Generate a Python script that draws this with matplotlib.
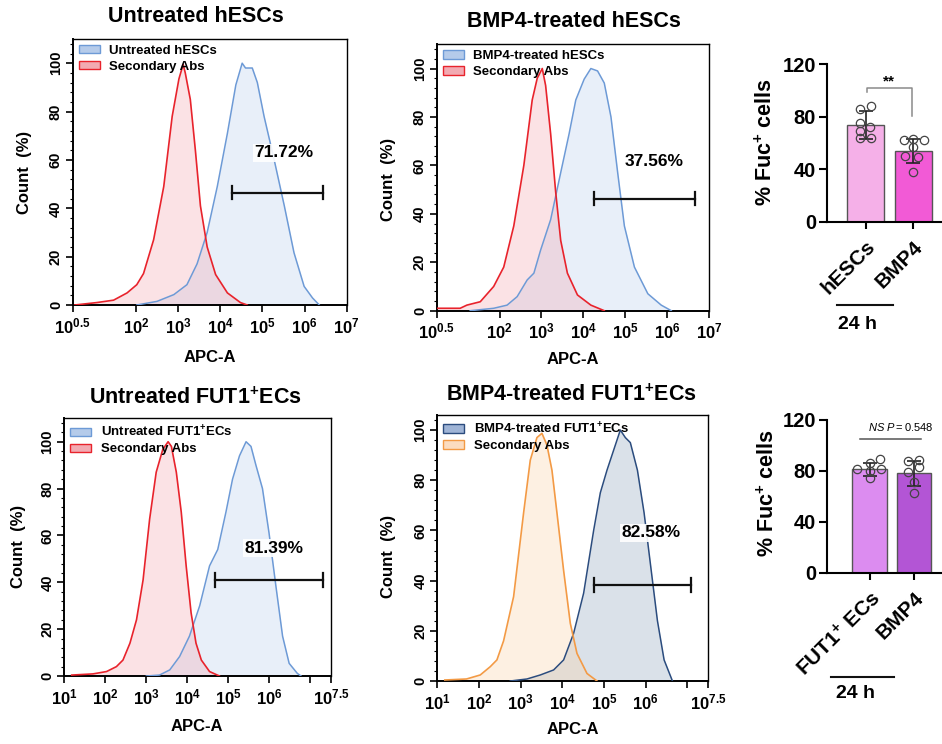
import numpy as np
import matplotlib
matplotlib.use('Agg')
import matplotlib.pyplot as plt
from matplotlib.patches import Patch
from matplotlib.lines import Line2D
from matplotlib.ticker import MultipleLocator, NullFormatter, FixedLocator
import matplotlib.transforms as mtrans

plt.rcParams['font.family'] = ['Liberation Sans', 'DejaVu Sans']
plt.rcParams['mathtext.fontset'] = 'custom'
plt.rcParams['mathtext.rm'] = 'Liberation Sans'
plt.rcParams['mathtext.bf'] = 'Liberation Sans:bold'
plt.rcParams['mathtext.it'] = 'Liberation Sans:italic'

# ---------------- data: flow histograms (x = log10 APC-A, y = Count %) -------------
p1_ctrl_logx = [0.55, 1.07, 1.47, 1.79, 2.02, 2.18, 2.42, 2.66, 2.86, 3.02, 3.12, 3.17, 3.29, 3.41, 3.53, 3.69, 3.89, 4.17, 4.48, 4.64]
p1_ctrl_y = [0, 1, 2, 5, 8.4, 13, 27, 49, 78, 93.5, 99.5, 96, 85, 64, 41, 24, 12.6, 5, 1, 0]
p1_samp_logx = [2.02, 2.5, 2.9, 3.21, 3.45, 3.69, 3.93, 4.17, 4.37, 4.52, 4.6, 4.76, 4.88, 5.04, 5.28, 5.52, 5.75, 5.99, 6.19, 6.35]
p1_samp_y = [0, 1.5, 4.3, 8.4, 17, 30, 49, 71, 91, 100, 98, 98, 92, 78, 60, 41, 21.6, 7.7, 2.9, 0]

p2_ctrl_logx = [0.5, 1.06, 1.22, 1.54, 1.86, 2.1, 2.34, 2.58, 2.78, 2.9, 3.02, 3.1, 3.22, 3.34, 3.46, 3.62, 3.86, 4.18, 4.5]
p2_ctrl_y = [1, 1, 2.3, 3.7, 10, 18, 35, 60, 87, 96, 100, 93, 73, 49, 29, 15.5, 6.5, 2.3, 0]
p2_samp_logx = [1.3, 1.86, 2.18, 2.42, 2.66, 2.82, 2.98, 3.22, 3.46, 3.66, 3.82, 4.02, 4.18, 4.34, 4.5, 4.66, 4.82, 4.98, 5.22, 5.54, 5.86, 6.1]
p2_samp_y = [0, 1, 2.3, 5.8, 12.7, 15.5, 25, 37.6, 57, 73, 87, 95.6, 100, 99, 94, 80, 57, 35, 18, 7, 2.3, 0]

p3_ctrl_logx = [1.18, 1.7, 2.03, 2.27, 2.43, 2.6, 2.76, 2.92, 3.08, 3.24, 3.4, 3.53, 3.61, 3.73, 3.85, 3.97, 4.09, 4.21, 4.34, 4.54, 4.78]
p3_ctrl_y = [0.4, 0.9, 1.9, 4, 6.8, 14, 24, 41, 67, 87, 96.7, 100, 98, 87, 70, 47, 27, 14, 6.8, 1.9, 0]
p3_samp_logx = [3.0, 3.32, 3.57, 3.81, 4.05, 4.3, 4.54, 4.74, 4.94, 5.1, 5.27, 5.43, 5.55, 5.67, 5.83, 5.99, 6.16, 6.32, 6.48, 6.68, 6.77]
p3_samp_y = [0, 0.4, 2.6, 8.3, 17, 30, 47, 54, 70, 84, 94, 100, 98, 90, 80, 61, 38, 17, 5.4, 1.1, 0]

p4_ctrl_logx = [1.18, 1.7, 2.03, 2.27, 2.43, 2.59, 2.83, 3.07, 3.23, 3.39, 3.51, 3.63, 3.75, 3.87, 4.03, 4.19, 4.35, 4.59, 4.83]
p4_ctrl_y = [0.4, 0.8, 2.4, 5.7, 8.4, 16, 33.6, 67, 88, 97, 98.7, 94, 84, 67, 44, 23, 11, 3, 0]
p4_samp_logx = [2.75, 3.15, 3.47, 3.79, 4.03, 4.27, 4.51, 4.75, 4.91, 5.07, 5.23, 5.39, 5.51, 5.63, 5.8, 5.96, 6.12, 6.28, 6.44, 6.64]
p4_samp_y = [0, 0.8, 2.4, 4.4, 8.4, 19, 35, 60, 75, 84, 92, 100, 97, 95, 84, 67, 45.5, 24, 8.4, 0]

# gates (log10 start, log10 end, y level) and percentages
gates_logx = [(4.29, 6.43), (4.26, 6.66), (4.68, 7.31), (4.75, 7.08)]
gates_y = [46.5, 46.3, 41.0, 38.2]
pct_labels = ['71.72%', '37.56%', '81.39%', '82.58%']
pct_logx = [5.52, 5.68, 6.12, 6.12]
pct_y = [63, 61.5, 54.6, 59]

titles = ['Untreated hESCs', 'BMP4-treated hESCs',
          r'Untreated FUT1$^{\mathbf{+}}$ECs', r'BMP4-treated FUT1$^{\mathbf{+}}$ECs']
sample_labels = ['Untreated hESCs', 'BMP4-treated hESCs',
                 r'Untreated FUT1$^{\mathbf{+}}$ECs', r'BMP4-treated FUT1$^{\mathbf{+}}$ECs']
ctrl_label = 'Secondary Abs'

xticks_top = [0.5, 2, 3, 4, 5, 6, 7]
xticklabels_top = ['0.5', '2', '3', '4', '5', '6', '7']
xticks_bot = [1, 2, 3, 4, 5, 6, 7, 7.5]
xticklabels_bot = ['1', '2', '3', '4', '5', '6', '', '7.5']

# ---------------- data: bar charts -------------
bar1_cats = ['hESCs', 'BMP4']
bar1_means = [73.6, 53.8]
bar1_sds = [10.7, 9.3]
bar1_pts = [[85.8, 88.0, 75.1, 72.0, 69.0, 64.0, 64.0],
            [62.5, 63.0, 62.5, 57.0, 50.0, 49.5, 37.6]]
bar1_sig = '**'

bar2_cats = [r'FUT1$^{\mathbf{+}}$ ECs', 'BMP4']
bar2_means = [81.2, 78.0]
bar2_sds = [5.0, 10.0]
bar2_pts = [[86.1, 89.1, 81.3, 79.9, 81.3, 74.2],
            [88.0, 88.6, 82.8, 78.9, 71.5, 62.4]]
bar2_sig = 'P=0.548'

# jitter (style) offsets for dots, in bar-slot units
bar1_jit = [[-0.11, 0.11, -0.11, 0.09, -0.11, -0.11, 0.11],
            [-0.19, 0.0, 0.23, 0.0, -0.17, 0.10, 0.0]]
bar2_jit = [[0.0, 0.24, -0.28, 0.0, 0.25, 0.0],
            [-0.13, 0.12, 0.12, -0.13, 0.0, 0.0]]

# ---------------- figure -------------
W, H = 942, 744
fig = plt.figure(figsize=(W / 100, H / 100), dpi=100)


def fx(x):
    return x / W


def fy(y):
    return 1 - y / H


def rect(l, t, r, b):
    return [l / W, 1 - b / H, (r - l) / W, (b - t) / H]


RED = '#e8232c'
BLUE = '#6d9ad6'
NAVY = '#2b4c7e'
ORANGE = '#f39a45'


def hist_panel(box, ctrl, samp, ccol, cfill, clfc, scol, sfill, slfc, falpha,
               xlim, ylim, xt, xtl, gate, gy, pct, px, py, slabel):
    ax = fig.add_axes(box)
    ax.set_xscale('log')
    cx = 10 ** np.array(ctrl[0])
    sx = 10 ** np.array(samp[0])
    ax.fill_between(sx, samp[1], 0, color=sfill, alpha=falpha[1], lw=0, zorder=1)
    ax.fill_between(cx, ctrl[1], 0, color=cfill, alpha=falpha[0], lw=0, zorder=1.1)
    ax.plot(sx, samp[1], color=scol, lw=1.1, zorder=3)
    ax.plot(cx, ctrl[1], color=ccol, lw=1.2, zorder=3)
    ax.set_xlim(10 ** xlim[0], 10 ** xlim[1])
    ax.set_ylim(*ylim)
    ax.xaxis.set_major_locator(FixedLocator([10 ** v for v in xt]))
    ax.set_xticklabels([r'$\mathbf{10^{%s}}$' % t if t else '' for t in xtl])
    ax.xaxis.set_minor_formatter(NullFormatter())
    ax.yaxis.set_major_locator(MultipleLocator(20))
    ax.yaxis.set_minor_locator(MultipleLocator(4))
    ax.set_ylim(*ylim)
    ax.tick_params(axis='x', which='major', direction='out', length=5, width=1.2,
                   labelsize=12, pad=3)
    ax.tick_params(axis='x', which='minor', direction='out', length=2.5, width=0.8)
    ax.tick_params(axis='y', which='major', direction='out', length=5, width=1.2,
                   labelsize=10.5, pad=2)
    ax.tick_params(axis='y', which='minor', direction='out', length=2.5, width=0.8)
    for lab in ax.get_yticklabels():
        lab.set_rotation(90)
        lab.set_va('center')
        lab.set_fontweight('bold')
    for s in ['left', 'bottom']:
        ax.spines[s].set_linewidth(1.4)
    for s in ['top', 'right']:
        ax.spines[s].set_linewidth(1.0)
    # gate
    gx0, gx1 = 10 ** gate[0], 10 ** gate[1]
    ax.plot([gx0, gx1], [gy, gy], color='#111', lw=1.6, zorder=5)
    ax.plot([gx0, gx0], [gy - 2.8, gy + 2.8], color='#111', lw=1.6, zorder=5)
    ax.plot([gx1, gx1], [gy - 2.8, gy + 2.8], color='#111', lw=1.6, zorder=5)
    ax.text(10 ** px, py, pct, ha='center', va='center', fontsize=12.5,
            fontweight='bold', zorder=6,
            bbox=dict(facecolor='white', edgecolor='none', pad=1.0, alpha=0.9))
    handles = [Patch(facecolor=slfc, edgecolor=scol, lw=1.0, label=slabel),
               Patch(facecolor=clfc, edgecolor=ccol, lw=1.0, label=ctrl_label)]
    ax.legend(handles=handles, loc='upper left', frameon=False,
              prop=dict(weight='bold', size=9.5), handlelength=1.6,
              handleheight=0.6, handletextpad=0.7, labelspacing=0.3,
              borderaxespad=0.25, borderpad=0.2)
    return ax


ax1 = hist_panel(rect(72.7, 39, 346.7, 305), (p1_ctrl_logx, p1_ctrl_y), (p1_samp_logx, p1_samp_y),
                 RED, '#f39aa4', '#f2aab2', BLUE, '#bcd0ee', '#b5cbea', (0.28, 0.33),
                 (0.5, 7), (0, 110), xticks_top, xticklabels_top,
                 gates_logx[0], gates_y[0], pct_labels[0], pct_logx[0], pct_y[0], sample_labels[0])
ax2 = hist_panel(rect(436.7, 44.3, 709, 310.7), (p2_ctrl_logx, p2_ctrl_y), (p2_samp_logx, p2_samp_y),
                 RED, '#f39aa4', '#f2aab2', BLUE, '#bcd0ee', '#b5cbea', (0.28, 0.33),
                 (0.5, 7), (0, 110), xticks_top, xticklabels_top,
                 gates_logx[1], gates_y[1], pct_labels[1], pct_logx[1], pct_y[1], sample_labels[1])
ax3 = hist_panel(rect(64.3, 418.3, 331, 676), (p3_ctrl_logx, p3_ctrl_y), (p3_samp_logx, p3_samp_y),
                 RED, '#f39aa4', '#f2aab2', BLUE, '#bcd0ee', '#b5cbea', (0.28, 0.33),
                 (1, 7.5), (0, 110), xticks_bot, xticklabels_bot,
                 gates_logx[2], gates_y[2], pct_labels[2], pct_logx[2], pct_y[2], sample_labels[2])
ax4 = hist_panel(rect(437.3, 415, 708.3, 681), (p4_ctrl_logx, p4_ctrl_y), (p4_samp_logx, p4_samp_y),
                 ORANGE, '#fbd2a6', '#fbdcc0', NAVY, '#a9b8cc', '#9fb4d6', (0.32, 0.42),
                 (1, 7.5), (0, 106), xticks_bot, xticklabels_bot,
                 gates_logx[3], gates_y[3], pct_labels[3], pct_logx[3], pct_y[3], sample_labels[3])

# panel texts
for (tx, ty), t in zip([(196, 17), (574, 21.7), (195, 398), (571, 395)], titles):
    fig.text(fx(tx), fy(ty), t, ha='center', va='center', fontsize=15.5, fontweight='bold')
for (tx, ty) in [(25, 172), (388, 179), (18.3, 546.7), (388.3, 556.7)]:
    fig.text(fx(tx), fy(ty), 'Count  (%)', ha='center', va='center', rotation=90,
             fontsize=12, fontweight='bold')
for (tx, ty) in [(210, 358), (573, 360), (196.7, 726.7), (573.3, 730)]:
    fig.text(fx(tx), fy(ty), 'APC-A', ha='center', va='center', fontsize=12, fontweight='bold')


# ---------------- bar charts -------------
def bar_panel(box, xlim, cats, means, sds, pts, jit, colors, width, dx_px):
    ax = fig.add_axes(box)
    x = np.arange(len(cats))
    ax.bar(x, means, width=width, color=colors, edgecolor='#555555', lw=1.0, zorder=2)
    ax.errorbar(x, means, yerr=sds, fmt='none', ecolor='#222222', elinewidth=1.2,
                capsize=5, capthick=1.2, zorder=3)
    for i in range(len(cats)):
        ax.plot(x[i] + np.array(jit[i]), pts[i], 'o', mfc='none', mec='#444444',
                ms=6, mew=0.9, zorder=4, clip_on=False)
    ax.set_xlim(*xlim)
    ax.set_ylim(0, 120)
    ax.set_yticks([0, 40, 80, 120])
    ax.set_xticks(x)
    ax.set_xticklabels(cats, rotation=45, ha='right', va='top', rotation_mode='anchor',
                       fontsize=15, fontweight='bold')
    off = mtrans.ScaledTranslation(dx_px / 100, 0, fig.dpi_scale_trans)
    for lab in ax.get_xticklabels():
        lab.set_transform(lab.get_transform() + off)
    ax.tick_params(axis='y', direction='out', length=6, width=1.5, labelsize=14.5, pad=2)
    ax.tick_params(axis='x', direction='out', length=5, width=1.5, pad=6)
    for lab in ax.get_yticklabels():
        lab.set_fontweight('bold')
    for s in ['top', 'right']:
        ax.spines[s].set_visible(False)
    for s in ['left', 'bottom']:
        ax.spines[s].set_linewidth(1.5)
    return ax


b1 = bar_panel(rect(827, 64, 949, 221.7), (-0.809, 1.745), bar1_cats, bar1_means, bar1_sds,
               bar1_pts, bar1_jit, ['#f5b0e8', '#f25ad6'], 0.766, 7)
b1.plot([0.02, 0.02, 0.97, 0.97], [98.7, 102, 102, 80.4], color='#8a8a8a', lw=1.1,
        clip_on=False, zorder=5)
b1.text(0.49, 106.5, bar1_sig, ha='center', va='center', fontsize=11, fontweight='bold')

b2 = bar_panel(rect(827, 420, 949, 572.7), (-0.966, 1.793), bar2_cats, bar2_means, bar2_sds,
               bar2_pts, bar2_jit, ['#dc8cf0', '#b355d5'], 0.78, 3)
b2.plot([-0.22, 1.17], [105, 105], color='#555555', lw=1.1, clip_on=False, zorder=5)
b2.text(-0.03, 114.5, r'$\mathbf{\it{NS}}$ ' + r'$\it{%s}$' % bar2_sig, ha='left', va='center',
        fontsize=8, clip_on=False)

for (lx0, lx1, ly), (tx, ty) in [((837, 893, 305), (857, 325)), ((831, 894, 677), (855, 694))]:
    fig.add_artist(Line2D([fx(lx0), fx(lx1)], [fy(ly), fy(ly)], color='#111111', lw=1.5,
                          transform=fig.transFigure))
    fig.text(fx(tx), fy(ty), '24 h', ha='center', va='center', fontsize=14, fontweight='bold')

for (tx, ty) in [(766, 142), (768, 493)]:
    fig.text(fx(tx), fy(ty), r'% Fuc$^{\mathbf{+}}$ cells', ha='center', va='center',
             rotation=90, fontsize=15.5, fontweight='bold')

fig.savefig('out.png', dpi=100)
